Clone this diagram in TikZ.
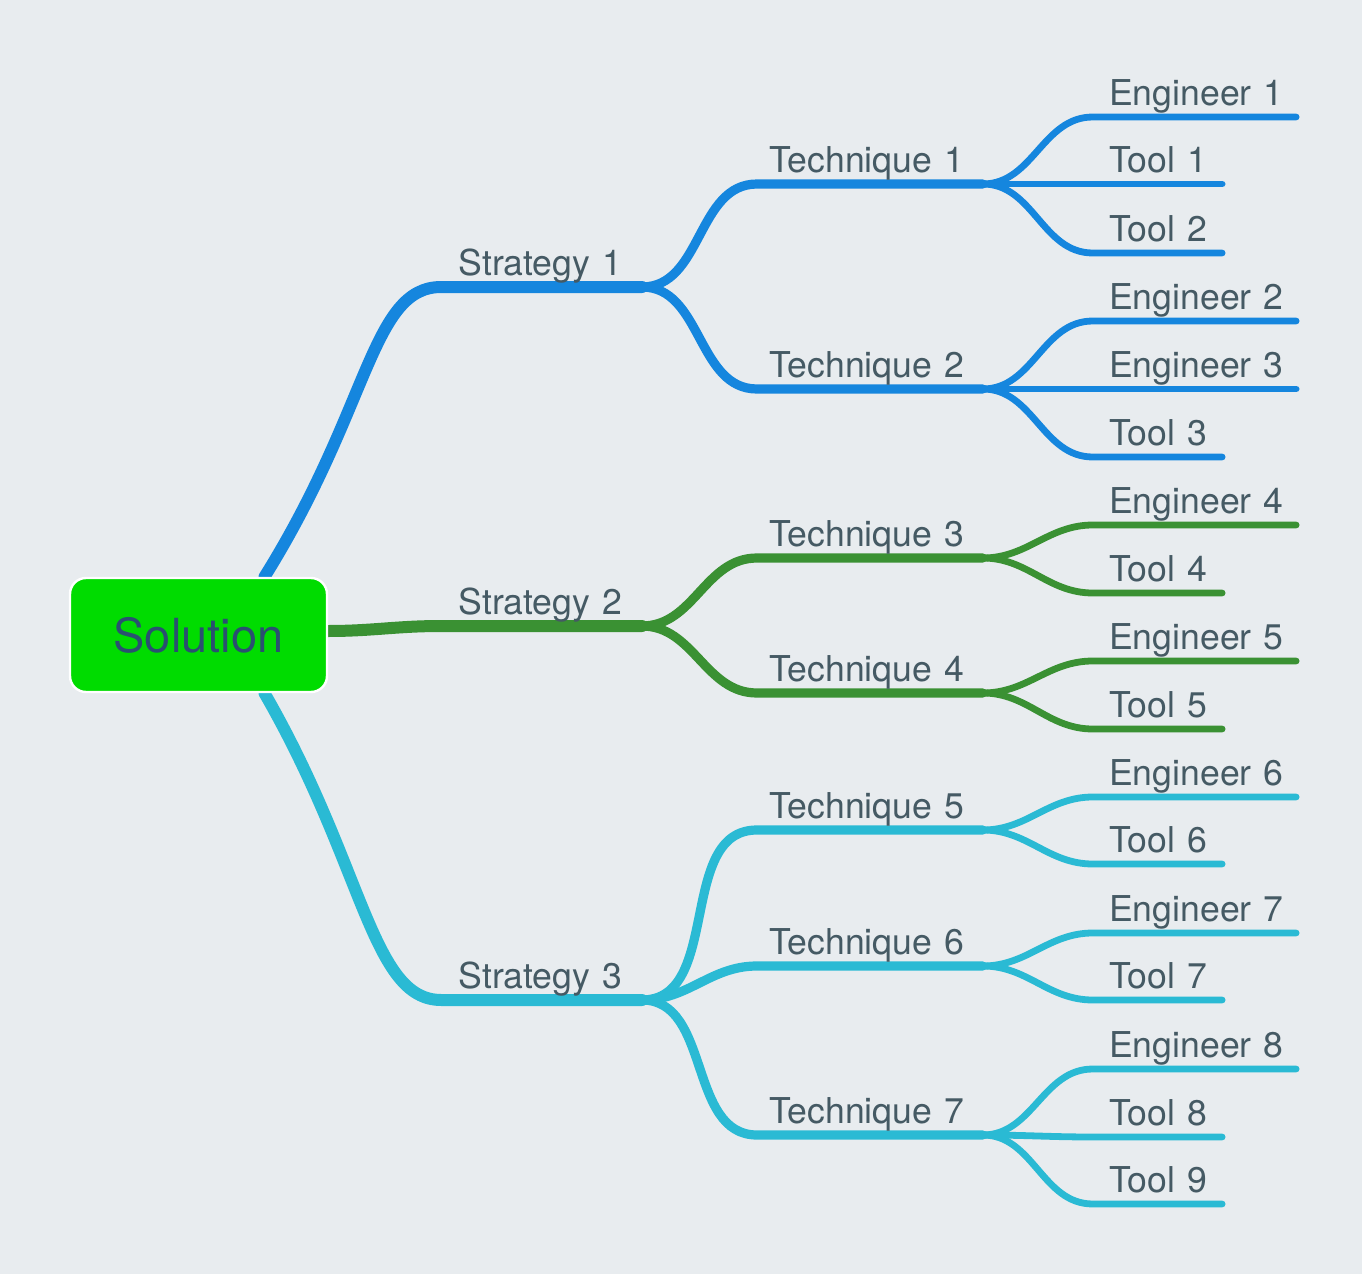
\documentclass[tikz,border=0pt]{standalone}
\usepackage{fontspec}
\setmainfont{TeX Gyre Heros}
\usetikzlibrary{positioning, backgrounds}

\definecolor{paper}{HTML}{E8ECEF}
\definecolor{branchblue}{HTML}{1586DE}
\definecolor{branchgreen}{HTML}{3A9133}
\definecolor{branchcyan}{HTML}{2ABAD4}
\definecolor{labelgray}{HTML}{455A64}
\definecolor{rootgreen}{HTML}{00DC00}
\definecolor{roottext}{HTML}{2A5070}

\begin{document}
\begin{tikzpicture}[
        root/.style={rectangle, rounded corners=8pt, draw=white, line width=1.2pt, fill=rootgreen, text=roottext, minimum width=128.5pt, minimum height=57pt, font=\fontsize{23.5}{28}\selectfont},
        topic/.style={anchor=south west, text depth=0pt, text height=13pt, inner ysep=5.5pt, align=left, text=labelgray, font=\fontsize{17.8}{21}\selectfont},
        strategy/.style={topic, inner xsep=8.5pt, text width=83pt},
        technique/.style={topic, inner xsep=6pt, text width=100.5pt},
        engineer/.style={topic, inner xsep=8pt, text width=85.25pt},
        tool/.style={topic, inner xsep=8pt, text width=48.25pt},
        main/.style={line width=6pt, line cap=round, line join=round},
        mid/.style={line width=4.6pt, line cap=round, line join=round},
        twig/.style={line width=3.4pt, line cap=round, line join=round}
    ]
        \useasboundingbox (0,0) rectangle (681pt,-637pt);

        % Root
        \node[root] (root) at (99.25pt,-317.5pt) {Solution};

        % Strategies
        \node[strategy, above right=174pt and 56.5pt of root.east] (s1) {Strategy~1};
        \node[strategy, above right=4.5pt and 56.5pt of root.east] (s2) {Strategy~2};
        \node[strategy, below right=182.5pt and 56.5pt of root.east, anchor=south west] (s3) {Strategy~3};

        % Techniques
        \node[technique, above right=51.5pt and 57.5pt of s1.south east] (t1) {Technique~1};
        \node[technique, below right=51pt and 57.5pt of s1.south east, anchor=south west] (t2) {Technique~2};
        \node[technique, above right=34pt and 57.5pt of s2.south east] (t3) {Technique~3};
        \node[technique, below right=33.5pt and 57.5pt of s2.south east, anchor=south west] (t4) {Technique~4};
        \node[technique, above right=85pt and 57.5pt of s3.south east] (t5) {Technique~5};
        \node[technique, above right=17pt and 57.5pt of s3.south east] (t6) {Technique~6};
        \node[technique, below right=67.5pt and 57.5pt of s3.south east, anchor=south west] (t7) {Technique~7};

        % Engineers and tools
        \node[engineer, above right=33.5pt and 55pt of t1.south east] (e1) {Engineer~1};
        \node[tool, right=55pt of t1.south east, anchor=south west] (o1) {Tool~1};
        \node[tool, below right=34.5pt and 55pt of t1.south east, anchor=south west] (o2) {Tool~2};

        \node[engineer, above right=34pt and 55pt of t2.south east] (e2) {Engineer~2};
        \node[engineer, right=55pt of t2.south east, anchor=south west] (e3) {Engineer~3};
        \node[tool, below right=34pt and 55pt of t2.south east, anchor=south west] (o3) {Tool~3};

        \node[engineer, above right=16.5pt and 55pt of t3.south east] (e4) {Engineer~4};
        \node[tool, below right=17.5pt and 55pt of t3.south east, anchor=south west] (o4) {Tool~4};

        \node[engineer, above right=16pt and 55pt of t4.south east] (e5) {Engineer~5};
        \node[tool, below right=18pt and 55pt of t4.south east, anchor=south west] (o5) {Tool~5};

        \node[engineer, above right=16.5pt and 55pt of t5.south east] (e6) {Engineer~6};
        \node[tool, below right=17pt and 55pt of t5.south east, anchor=south west] (o6) {Tool~6};

        \node[engineer, above right=16.5pt and 55pt of t6.south east] (e7) {Engineer~7};
        \node[tool, below right=17pt and 55pt of t6.south east, anchor=south west] (o7) {Tool~7};

        \node[engineer, above right=33pt and 55pt of t7.south east] (e8) {Engineer~8};
        \node[tool, below right=1pt and 55pt of t7.south east, anchor=south west] (o8) {Tool~8};
        \node[tool, below right=34.5pt and 55pt of t7.south east, anchor=south west] (o9) {Tool~9};

        \begin{scope}[on background layer]
            \fill[paper] (0,0) rectangle (681pt,-637pt);

            % Strategy 1 branch
            \draw[main, branchblue] ([xshift=33pt]root.north) .. controls +(58:100pt) and +(-35pt,0) .. (s1.south west) -- (s1.south east);
            \draw[mid, branchblue] (s1.south east) to[out=0, in=180] (t1.south west) -- (t1.south east);
            \draw[mid, branchblue] (s1.south east) to[out=0, in=180] (t2.south west) -- (t2.south east);
            \draw[twig, branchblue] (t1.south east) to[out=0, in=180] (e1.south west) -- (e1.south east);
            \draw[twig, branchblue] (t1.south east) to[out=0, in=180] (o1.south west) -- (o1.south east);
            \draw[twig, branchblue] (t1.south east) to[out=0, in=180] (o2.south west) -- (o2.south east);
            \draw[twig, branchblue] (t2.south east) to[out=0, in=180] (e2.south west) -- (e2.south east);
            \draw[twig, branchblue] (t2.south east) to[out=0, in=180] (e3.south west) -- (e3.south east);
            \draw[twig, branchblue] (t2.south east) to[out=0, in=180] (o3.south west) -- (o3.south east);

            % Strategy 2 branch
            \draw[main, branchgreen] ([yshift=2pt]root.east) to[out=0, in=180] (s2.south west) -- (s2.south east);
            \draw[mid, branchgreen] (s2.south east) to[out=0, in=180] (t3.south west) -- (t3.south east);
            \draw[mid, branchgreen] (s2.south east) to[out=0, in=180] (t4.south west) -- (t4.south east);
            \draw[twig, branchgreen] (t3.south east) to[out=0, in=180] (e4.south west) -- (e4.south east);
            \draw[twig, branchgreen] (t3.south east) to[out=0, in=180] (o4.south west) -- (o4.south east);
            \draw[twig, branchgreen] (t4.south east) to[out=0, in=180] (e5.south west) -- (e5.south east);
            \draw[twig, branchgreen] (t4.south east) to[out=0, in=180] (o5.south west) -- (o5.south east);

            % Strategy 3 branch
            \draw[main, branchcyan] ([xshift=33pt]root.south) .. controls +(-60:100pt) and +(-35pt,0) .. (s3.south west) -- (s3.south east);
            \draw[mid, branchcyan] (s3.south east) to[out=0, in=180] (t5.south west) -- (t5.south east);
            \draw[mid, branchcyan] (s3.south east) to[out=0, in=180] (t6.south west) -- (t6.south east);
            \draw[mid, branchcyan] (s3.south east) to[out=0, in=180] (t7.south west) -- (t7.south east);
            \draw[twig, branchcyan] (t5.south east) to[out=0, in=180] (e6.south west) -- (e6.south east);
            \draw[twig, branchcyan] (t5.south east) to[out=0, in=180] (o6.south west) -- (o6.south east);
            \draw[twig, branchcyan] (t6.south east) to[out=0, in=180] (e7.south west) -- (e7.south east);
            \draw[twig, branchcyan] (t6.south east) to[out=0, in=180] (o7.south west) -- (o7.south east);
            \draw[twig, branchcyan] (t7.south east) to[out=0, in=180] (e8.south west) -- (e8.south east);
            \draw[twig, branchcyan] (t7.south east) to[out=0, in=180] (o8.south west) -- (o8.south east);
            \draw[twig, branchcyan] (t7.south east) to[out=0, in=180] (o9.south west) -- (o9.south east);
        \end{scope}

    \end{tikzpicture}
\end{document}
